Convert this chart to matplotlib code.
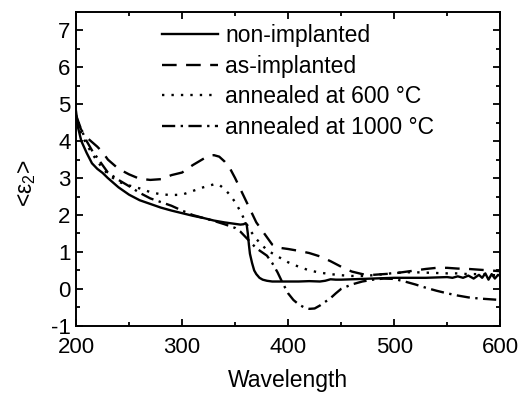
import matplotlib
matplotlib.use("Agg")
import matplotlib.pyplot as plt
from matplotlib.ticker import MultipleLocator

plt.rcParams['font.family'] = ['Liberation Sans', 'DejaVu Sans']
plt.rcParams['mathtext.fontset'] = 'custom'
plt.rcParams['mathtext.rm'] = 'Liberation Sans'
plt.rcParams['mathtext.it'] = 'Liberation Sans'
plt.rcParams['axes.unicode_minus'] = False

labels = ["non-implanted", "as-implanted", "annealed at 600 \u00b0C", "annealed at 1000 \u00b0C"]

x_non = [200,202,205,210,215,220,225,230,240,250,260,270,280,290,300,310,320,330,340,350,355,358,360,361,362,363,364,366,368,370,373,376,380,385,390,400,410,420,430,435,440,445,450,460,470,480,490,500,510,520,530,540,550,555,560,565,570,575,580,583,586,589,592,595,598,600]
y_non = [4.8,4.35,4.0,3.68,3.4,3.25,3.14,3.0,2.75,2.55,2.4,2.3,2.2,2.12,2.05,1.98,1.92,1.85,1.8,1.76,1.74,1.75,1.78,1.72,1.5,1.2,0.95,0.7,0.5,0.4,0.3,0.25,0.22,0.2,0.2,0.2,0.2,0.21,0.2,0.22,0.26,0.25,0.25,0.26,0.27,0.28,0.29,0.3,0.3,0.3,0.3,0.31,0.32,0.3,0.34,0.3,0.36,0.28,0.38,0.3,0.42,0.25,0.4,0.28,0.38,0.35]

x_as = [200,205,210,220,225,230,240,250,260,270,280,290,300,310,320,325,330,335,340,345,350,355,360,365,370,375,380,385,390,400,410,420,430,440,450,460,470,480,490,500,510,520,530,540,550,560,570,580,590,600]
y_as = [4.6,4.3,4.1,3.85,3.7,3.5,3.25,3.1,2.98,2.95,2.97,3.08,3.15,3.35,3.52,3.6,3.62,3.58,3.45,3.27,3.0,2.7,2.4,2.1,1.8,1.6,1.4,1.2,1.12,1.08,1.03,0.97,0.88,0.75,0.6,0.47,0.4,0.38,0.4,0.42,0.46,0.5,0.54,0.57,0.57,0.55,0.54,0.52,0.5,0.48]

x_600 = [200,205,210,220,230,240,250,260,270,280,290,300,310,320,330,335,340,345,350,355,360,365,370,375,380,390,400,410,420,430,440,450,460,470,480,490,500,510,520,530,540,550,560,570,580,590,600]
y_600 = [4.5,4.2,3.9,3.45,3.1,2.9,2.8,2.72,2.62,2.56,2.54,2.55,2.65,2.75,2.83,2.82,2.7,2.55,2.35,2.1,1.8,1.55,1.35,1.2,1.05,0.88,0.72,0.6,0.5,0.44,0.4,0.37,0.35,0.35,0.37,0.4,0.43,0.45,0.45,0.44,0.43,0.42,0.42,0.4,0.4,0.38,0.36]

x_1000 = [200,205,210,215,220,225,230,240,250,260,270,280,290,300,310,320,330,340,350,355,360,365,370,375,380,385,390,395,400,405,410,415,420,425,430,435,440,445,450,460,470,480,490,500,510,520,530,540,550,560,570,580,590,600]
y_1000 = [4.7,4.3,4.0,3.75,3.55,3.35,3.15,2.95,2.78,2.6,2.45,2.35,2.25,2.12,2.0,1.92,1.84,1.75,1.65,1.55,1.4,1.25,1.1,1.0,0.9,0.7,0.45,0.15,-0.12,-0.3,-0.42,-0.5,-0.54,-0.53,-0.45,-0.35,-0.25,-0.12,0.0,0.12,0.2,0.25,0.28,0.27,0.2,0.12,0.03,-0.05,-0.12,-0.18,-0.23,-0.26,-0.28,-0.3]

fs = 16.5
tfs = 16
fig = plt.figure(figsize=(5.21, 3.94), dpi=100)
ax = fig.add_axes([0.146, 0.173, 0.814, 0.797])

lw = 1.7
ax.plot(x_non, y_non, color='black', lw=lw, linestyle='-', label=labels[0])
ax.plot(x_as, y_as, color='black', lw=lw, linestyle=(0, (6.2, 4.0)), label=labels[1])
ax.plot(x_600, y_600, color='black', lw=lw, linestyle=(0, (1.0, 3.0)), label=labels[2])
ax.plot(x_1000, y_1000, color='black', lw=lw, linestyle=(0, (5.6, 2.3, 1.0, 2.3)), label=labels[3])

ax.set_xlim(200, 600)
ax.set_ylim(-1, 7.5)
ax.xaxis.set_major_locator(MultipleLocator(100))
ax.xaxis.set_minor_locator(MultipleLocator(50))
ax.yaxis.set_major_locator(MultipleLocator(1))
ax.yaxis.set_minor_locator(MultipleLocator(0.5))
ax.tick_params(which='both', direction='in', top=True, right=True, width=1.3, labelsize=tfs)
ax.tick_params(axis='x', pad=8)
ax.tick_params(axis='y', pad=4)
ax.tick_params(which='major', length=5)
ax.tick_params(which='minor', length=3)
for s in ax.spines.values():
    s.set_linewidth(1.4)

ax.set_xlabel('Wavelength', fontsize=fs)
ax.xaxis.set_label_coords(0.5, -0.138)
ax.set_ylabel('<\u03b5$_2$>', fontsize=fs)
ax.yaxis.set_label_coords(-0.09, 0.455)

ax.legend(loc='upper left', bbox_to_anchor=(0.203, 0.962), frameon=False, fontsize=fs,
          handlelength=2.45, handletextpad=0.3, labelspacing=0.34, borderaxespad=0.0, borderpad=0.0)

fig.savefig('out.png', dpi=100)
